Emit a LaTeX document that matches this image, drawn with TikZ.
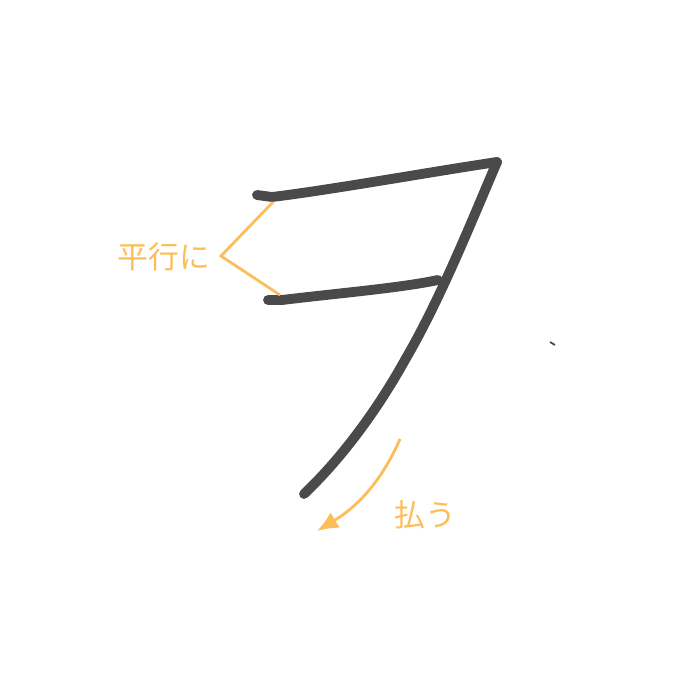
\documentclass[tikz,border=0pt]{standalone}
\usepackage{fontspec}
\newfontfamily\jpfont{Noto Sans CJK JP}
\usepackage{tikz}
\usetikzlibrary{arrows.meta}

\definecolor{brush}{RGB}{74,74,74}
\definecolor{hint}{RGB}{252,190,88}

\begin{document}
\begin{tikzpicture}[x=0.02cm, y=-0.02cm,
	every node/.style={font=\jpfont\fontsize{17.5}{20}\selectfont, text=hint},
	stroke/.style={brush, line width=5.6pt, line cap=round, line join=round},
	guide/.style={hint, line width=1.6pt},
	>={Latex[length=4.2mm, width=3.6mm]}]
	\useasboundingbox[fill=white] (0,0) rectangle (700,700);
	% the three strokes
	\coordinate (T) at (497,162);
	\coordinate (M) at (438,280);
	\coordinate (E) at (304,494);
	\draw[stroke] (257,195) -- (272,197) .. controls (330,190) and (430,172) .. (T);
	\draw[stroke] (268,300) -- (282,300) .. controls (340,293) and (400,288) .. (M);
	\draw[stroke] (T) .. controls (470,225) and (440,300) .. (405,360)
		.. controls (380,405) and (345,455) .. (E);
	\draw[brush, line width=1pt] (550,342) -- (555,345);
	% labels
	\node (par) at (164,257) {平行に};
	\coordinate (V) at (221,256);
	\draw[guide] (273,202) -- (V) -- (280,295);
	\node (harau) at (425,515) {払う};
	\coordinate (A0) at (400,439);
	\coordinate (A1) at (317,531);
	\draw[guide, ->] (A0) .. controls (383,478) and (360,505) .. (A1);
\end{tikzpicture}
\end{document}
